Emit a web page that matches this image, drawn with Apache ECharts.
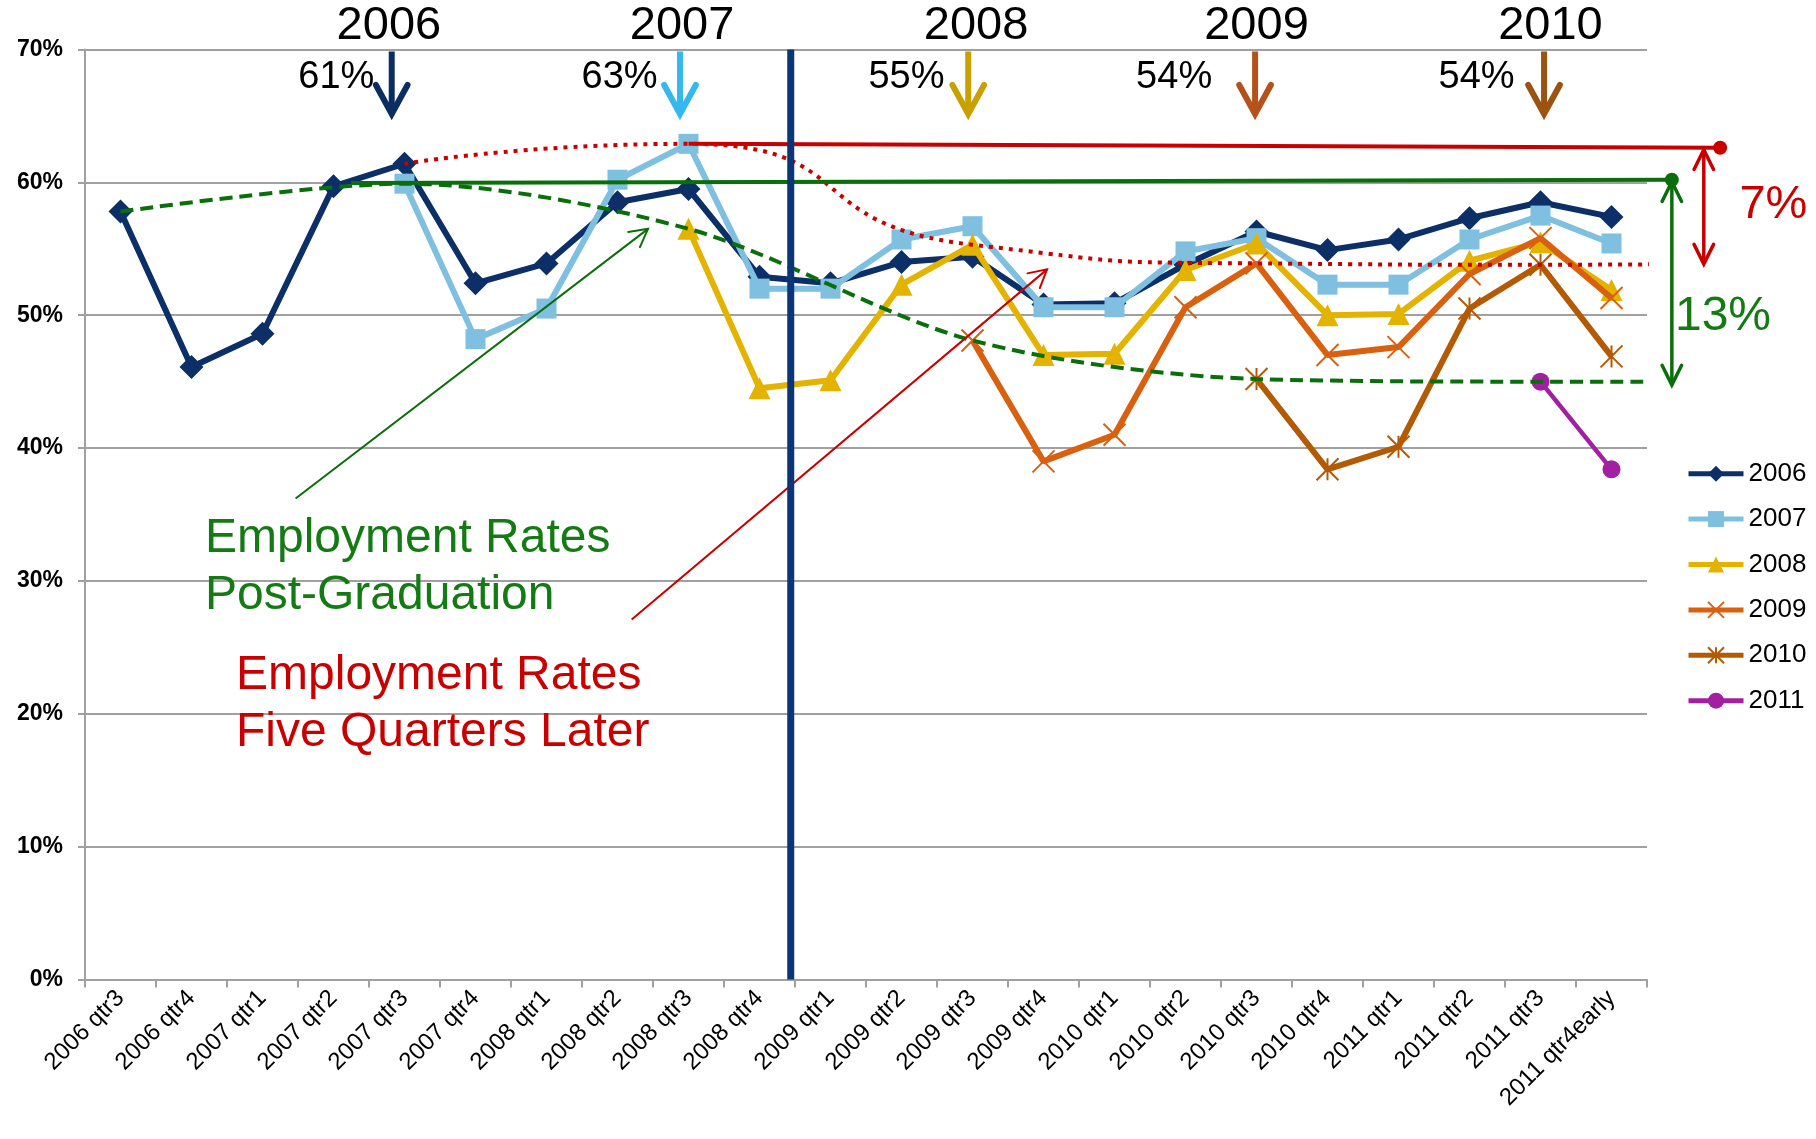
<!DOCTYPE html>
<html>
<head>
<meta charset="utf-8">
<script src="https://cdn.jsdelivr.net/npm/echarts@6.0.0/dist/echarts.min.js"></script>
<style>
html,body{margin:0;padding:0;background:#fff;}
#chart{width:1816px;height:1139px;}
</style>
</head>
<body>
<div id="chart"></div>
<script>
// ---------- data ----------
const categories = ['2006 qtr3','2006 qtr4','2007 qtr1','2007 qtr2','2007 qtr3','2007 qtr4',
  '2008 qtr1','2008 qtr2','2008 qtr3','2008 qtr4','2009 qtr1','2009 qtr2','2009 qtr3','2009 qtr4',
  '2010 qtr1','2010 qtr2','2010 qtr3','2010 qtr4','2011 qtr1','2011 qtr2','2011 qtr3','2011 qtr4early'];

const cohortNames = ['2006','2007','2008','2009','2010','2011'];
const cohort2006 = [57.8,46.1,48.6,59.7,61.4,52.4,53.9,58.5,59.5,52.9,52.4,54.0,54.4,50.8,50.9,53.8,56.3,54.9,55.7,57.3,58.5,57.4];
const cohort2007 = [null,null,null,null,59.9,48.2,50.5,60.2,62.9,52.0,52.0,55.7,56.7,50.6,50.6,54.8,55.8,52.3,52.3,55.7,57.5,55.4];
const cohort2008 = [null,null,null,null,null,null,null,null,56.5,44.5,45.1,52.3,55.3,47.0,47.1,53.4,55.4,50.0,50.1,54.1,55.5,51.9];
const cohort2009 = [null,null,null,null,null,null,null,null,null,null,null,null,48.1,39.0,41.0,50.6,53.9,47.0,47.6,53.1,55.8,51.3];
const cohort2010 = [null,null,null,null,null,null,null,null,null,null,null,null,null,null,null,null,45.2,38.4,40.1,50.5,53.8,46.9];
const cohort2011 = [null,null,null,null,null,null,null,null,null,null,null,null,null,null,null,null,null,null,null,null,45.0,38.4];
const cohorts = [cohort2006,cohort2007,cohort2008,cohort2009,cohort2010,cohort2011];
// quarter index where each cohort is first measured
const firstIndex = [0,4,8,12,16,20];
const yTicks = [0,10,20,30,40,50,60,70];

const gapLabels = ['7%','13%'];

// ---------- styles ----------
const FONT = '"Liberation Sans", Arial, Helvetica, sans-serif';
const seriesColors = ['#0b2f66','#7fbfe0','#e3b300','#d9600f','#b35a05','#a21fa2'];
const arrowColors = ['#0b2d5f','#35b8f0','#c8a000','#b5521b','#9b5312'];
const RED = '#c80000', GREEN = '#0a6e0a', GREEN_TXT = '#147a14';
const X_SYM = 'path://M0,0L10,10M10,0L0,10';
const STAR_SYM = 'path://M0,0L10,10M10,0L0,10M5,0L5,10';

// trend points derived from the cohort data
const greenPts = cohorts.map((c,i)=>[firstIndex[i]+0.5, c[firstIndex[i]]]);
const redPts = cohorts.slice(0,5).map((c,i)=>[firstIndex[i]+4.5, c[firstIndex[i]+4]]);
const GREEN_END = 22.35, RED_END = 23.2;
greenPts.push([GREEN_END, greenPts[greenPts.length-1][1]]);
redPts.push([RED_END, redPts[redPts.length-1][1]+0.1]);

// annotation anchors (value-axis units)
const yearLabelX = [4.28, 8.41, 12.55, 16.5, 20.64];
const arrowX = [4.32, 8.38, 12.44, 16.48, 20.55];
const pctLabelX = [3.54, 7.53, 11.57, 15.34, 19.6];
const DIVIDER_X = 9.94;

const chart = echarts.init(document.getElementById('chart'), null, {renderer:'canvas'});

function cohortSeries(i){
  const sym = ['diamond','rect','triangle',X_SYM,STAR_SYM,'circle'][i];
  const size = [24,20,22,22,22,18][i];
  const width = [6,6,6,6,6,4.5][i];
  const c = seriesColors[i];
  const open = (i===3||i===4);
  return {
    name: cohortNames[i], type:'line', xAxisIndex:0, yAxisIndex:0,
    data: cohorts[i], symbol: sym, symbolSize: size, showSymbol:true, showAllSymbol:true,
    connectNulls:false, z: 2+i*0.1,
    lineStyle:{color:c, width:width},
    itemStyle: open ? {color:c, borderColor:c, borderWidth:2} : {color:c, borderWidth:0},
    emphasis:{disabled:true}
  };
}

function head(tip, from, len, ang){
  const dx = from[0]-tip[0], dy = from[1]-tip[1];
  const d = Math.hypot(dx,dy); const ux = dx/d, uy = dy/d;
  const c = Math.cos(ang), s = Math.sin(ang);
  return [[tip[0]+len*(ux*c-uy*s), tip[1]+len*(ux*s+uy*c)], tip, [tip[0]+len*(ux*c+uy*s), tip[1]+len*(-ux*s+uy*c)]];
}

function renderAnnotations(params, api){
  const P = (v,y)=>api.coord([v,y]);
  const ch = [];
  const line = (a,b,color,w,extra)=>ch.push({type:'line', shape:{x1:a[0],y1:a[1],x2:b[0],y2:b[1]}, style:Object.assign({stroke:color,lineWidth:w,lineCap:'butt'},extra||{})});
  const poly = (pts,color,w)=>ch.push({type:'polyline', shape:{points:pts}, style:{stroke:color,lineWidth:w,fill:null,lineJoin:'miter',miterLimit:10,lineCap:'round'}});
  const text = (t,p,size,color,align)=>ch.push({type:'text', x:p[0], y:p[1], style:{text:t, fontSize:size, fontFamily:FONT, fill:color, align:align||'center', verticalAlign:'middle'}});

  // solid max lines
  line(P(redPts[1][0], redPts[1][1]), P(23.03, 62.6), RED, 4);
  line(P(3.75, greenPts[1][1]+0.05), P(GREEN_END, 60.2), GREEN, 4);
  // end dots
  const rd = P(23.03, 62.6), gd = P(GREEN_END, 60.2);
  ch.push({type:'circle', shape:{cx:rd[0], cy:rd[1], r:7}, style:{fill:RED}});
  ch.push({type:'circle', shape:{cx:gd[0], cy:gd[1], r:7}, style:{fill:GREEN}});
  // red double arrow (7%)
  const rt = P(22.8, 62.45), rb = P(22.8, 53.85);
  line(rt, rb, RED, 3.5);
  poly(head(rt, rb, 22, 0.46), RED, 3.5);
  poly(head(rb, rt, 22, 0.46), RED, 3.5);
  // green double arrow (13%)
  const gt = P(GREEN_END, 60.05), gb = P(GREEN_END, 44.75);
  line(gt, gb, GREEN, 3.5);
  poly(head(gt, gb, 22, 0.46), GREEN, 3.5);
  poly(head(gb, gt, 22, 0.46), GREEN, 3.5);
  text(gapLabels[0], P(23.78, 58.3), 47, RED);
  text(gapLabels[1], P(23.07, 49.9), 48, GREEN_TXT);

  // pointer lines with open heads
  const g0 = P(2.966, 36.2), g1 = P(7.93, 56.5);
  line(g0, g1, GREEN, 2);
  poly(head(g1, g0, 20, 0.5), GREEN, 2);
  const r0 = P(7.70, 27.1), r1 = P(13.55, 53.45);
  line(r0, r1, RED, 2);
  poly(head(r1, r0, 20, 0.5), RED, 2);

  // annotation texts
  text('Employment Rates', P(1.69, 33.21), 48, GREEN_TXT, 'left');
  text('Post-Graduation', P(1.69, 28.90), 48, GREEN_TXT, 'left');
  text('Employment Rates', P(2.127, 22.86), 48, RED, 'left');
  text('Five Quarters Later', P(2.127, 18.57), 48, RED, 'left');

  // year labels, percentages and down arrows
  for (let i=0;i<5;i++){
    text(cohortNames[i], P(yearLabelX[i], 71.75), 47, '#000');
    text(Math.round(redPts[i][1])+'%', P(pctLabelX[i], 67.9), 38, '#000');
    const top = P(arrowX[i], 69.85), tip = P(arrowX[i], 65.15);
    line(top, [tip[0], tip[1]-3], arrowColors[i], 6);
    poly(head(tip, top, 33, 0.5), arrowColors[i], 6);
  }

  // vertical divider
  line(P(DIVIDER_X, 70), P(DIVIDER_X, 0), '#0a3577', 7);
  return {type:'group', children: ch};
}

const option = {
  animation:false,
  backgroundColor:'#ffffff',
  textStyle:{fontFamily:FONT},
  grid:{left:85, right:169, top:49.5, bottom:159.5, containLabel:false},
  legend:{
    orient:'vertical', left:1686, top:460.7, padding:0,
    itemWidth:55, itemHeight:20, itemGap:19.4,
    data: cohortNames,
    lineStyle:{width:5},
    textStyle:{fontSize:26, color:'#000', fontFamily:FONT, lineHeight:26},
    selectedMode:false
  },
  xAxis:[
    {type:'category', data:categories, boundaryGap:true,
      axisLine:{show:true, lineStyle:{color:'#a0a0a0', width:2}},
      axisTick:{show:true, length:8, lineStyle:{color:'#a0a0a0', width:2}},
      axisLabel:{rotate:45, interval:0, fontSize:24, color:'#000', fontFamily:FONT, margin:15},
      splitLine:{show:false}},
    {type:'value', min:0, max:22, show:false, splitLine:{show:false}}
  ],
  yAxis:{type:'value', min:yTicks[0], max:yTicks[yTicks.length-1], interval:10,
    axisLine:{show:true, lineStyle:{color:'#a0a0a0', width:2}},
    axisTick:{show:true, length:7, lineStyle:{color:'#a0a0a0', width:2}},
    axisLabel:{formatter:'{value}%', fontSize:23, fontWeight:'bold', color:'#000', fontFamily:FONT, margin:22},
    splitLine:{show:true, lineStyle:{color:'#a0a0a0', width:2}}
  },
  series:[
    ...cohorts.map((c,i)=>cohortSeries(i)),
    {name:'postgrad', type:'line', xAxisIndex:1, yAxisIndex:0, data:greenPts, smooth:0.3,
      symbol:'none', clip:false, z:6, silent:true,
      lineStyle:{color:GREEN, width:4, type:[13,7], cap:'butt'}},
    {name:'later', type:'line', xAxisIndex:1, yAxisIndex:0, data:redPts, smooth:0.6,
      symbol:'none', clip:false, z:6, silent:true,
      lineStyle:{color:RED, width:4, type:[4,6], cap:'butt'}},
    {name:'annotations', type:'custom', xAxisIndex:1, yAxisIndex:0, data:[[0,0]],
      renderItem: renderAnnotations, clip:false, z:8, silent:true}
  ]
};
chart.setOption(option);
</script>
</body>
</html>
